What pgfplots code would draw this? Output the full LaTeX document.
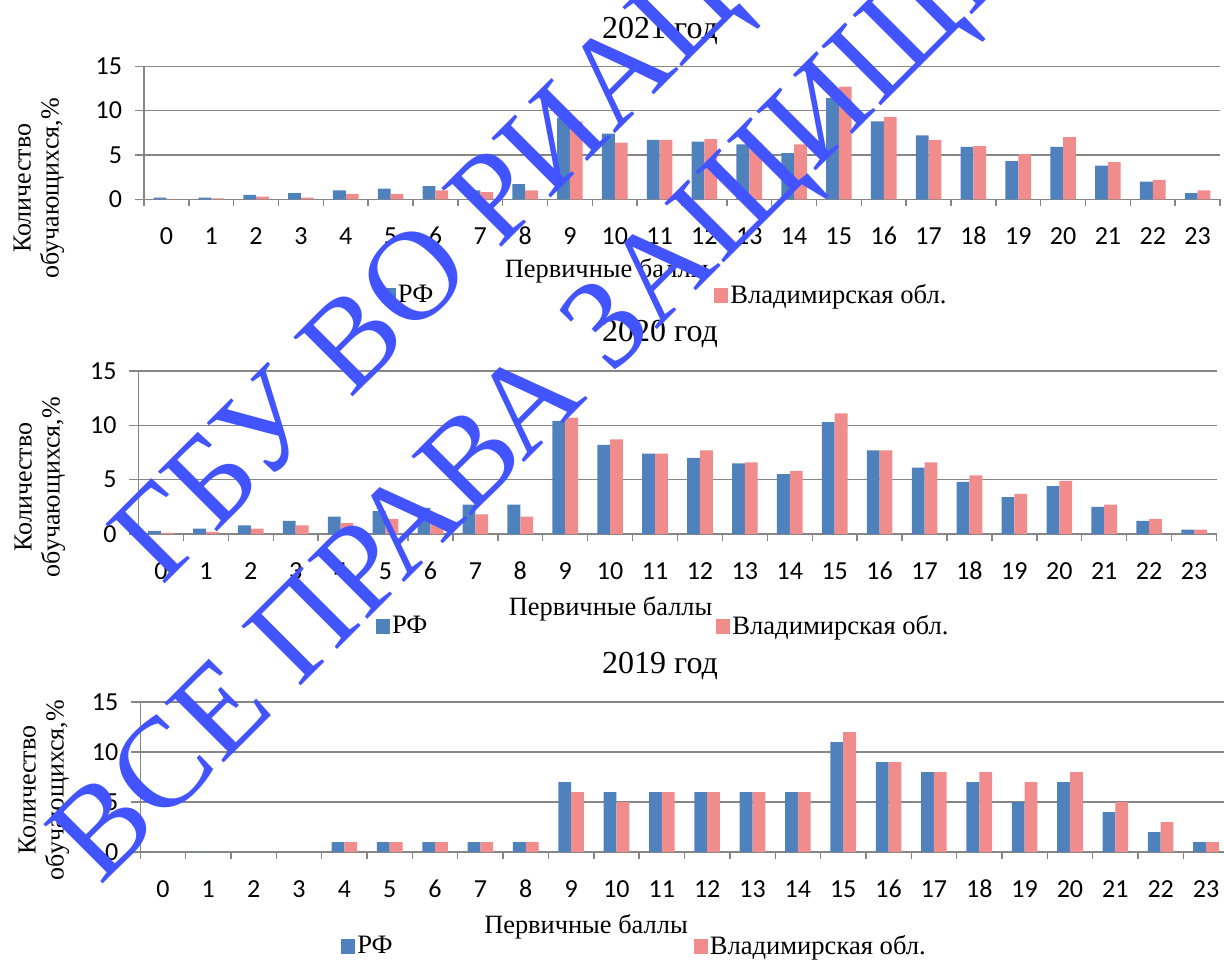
\documentclass[border=0pt]{standalone}
\usepackage{pgfplots}
\pgfplotsset{compat=1.18}
\usepackage{fontspec}
\setmainfont{Liberation Serif}
\newfontfamily\calibri{Carlito}

\definecolor{rfblue}{RGB}{79,129,189}
\definecolor{vlred}{RGB}{240,140,140}
\definecolor{wmblue}{RGB}{66,84,255}
\definecolor{axgray}{RGB}{134,134,134}

% one year: RF and Vladimir region, share of students per primary score, %
\pgfplotstableread{
score rf vl
0  0.2 0.0
1  0.2 0.1
2  0.5 0.3
3  0.7 0.2
4  1.0 0.6
5  1.2 0.6
6  1.5 1.0
7  1.0 0.8
8  1.7 1.0
9  9.2 8.8
10 7.4 6.4
11 6.7 6.7
12 6.5 6.8
13 6.2 6.3
14 5.2 6.2
15 11.4 12.7
16 8.8 9.3
17 7.2 6.7
18 5.9 6.0
19 4.3 5.1
20 5.9 7.0
21 3.8 4.2
22 2.0 2.2
23 0.7 1.0
}\yeartwentyone

\pgfplotstableread{
score rf vl
0  0.3 0.1
1  0.5 0.2
2  0.8 0.5
3  1.2 0.8
4  1.6 1.0
5  2.1 1.4
6  2.4 1.7
7  2.7 1.8
8  2.7 1.6
9  10.4 10.7
10 8.2 8.7
11 7.4 7.4
12 7.0 7.7
13 6.5 6.6
14 5.5 5.8
15 10.3 11.1
16 7.7 7.7
17 6.1 6.6
18 4.8 5.4
19 3.4 3.7
20 4.4 4.9
21 2.5 2.7
22 1.2 1.4
23 0.4 0.4
}\yeartwenty

\pgfplotstableread{
score rf vl
0  0 0
1  0 0
2  0 0
3  0 0
4  1 1
5  1 1
6  1 1
7  1 1
8  1 1
9  7 6
10 6 5
11 6 6
12 6 6
13 6 6
14 6 6
15 11 12
16 9 9
17 8 8
18 7 8
19 5 7
20 7 8
21 4 5
22 2 3
23 1 1
}\yearnineteen

\pgfplotsset{
  yearchart/.style={
    scale only axis,
    anchor=south west,
    ybar=0pt,
    bar width=6.4pt,
    ymin=0, ymax=15,
    xmin=-0.5, xmax=23.5,
    ytick={0,5,10,15},
    xtick={0,...,23},
    minor xtick={-0.5,0.5,...,23.5},
    ymajorgrids,
    grid style={axgray, line width=0.7pt},
    axis x line*=bottom,
    axis y line*=left,
    axis line style={axgray, line width=0.7pt},
    tick align=outside,
    major x tick style={draw=none},
    minor x tick style={axgray, line width=0.7pt},
    ytick style={axgray, line width=0.7pt},
    major tick length=4.5pt,
    minor tick length=3.5pt,
    tick label style={font=\calibri\fontsize{13}{13}\selectfont, text=black},
    /pgf/number format/assume math mode=true,
    xticklabel style={text height=8.5pt, text depth=0pt, yshift=-6pt},
    yticklabel style={xshift=-3pt},
    every axis title shift=0pt,
    title style={font=\fontsize{16}{16}\selectfont, anchor=base},
    xlabel style={font=\fontsize{13.2}{13.2}\selectfont, anchor=base},
    ylabel style={font=\fontsize{13}{14}\selectfont, align=center, anchor=center},
    ylabel={Количество\\обучающихся,\%},
    xlabel={Первичные баллы},
    legend columns=2,
    legend style={draw=none, fill=none, anchor=west, inner sep=0pt,
      font=\fontsize{13.3}{13.3}\selectfont,
      nodes={inner sep=1pt}},
  },
  rfbars/.style={fill=rfblue, draw=none,
    legend image code/.code={\fill[rfblue] (0pt,-3.6pt) rectangle (7pt,3.6pt);}},
  vlbars/.style={fill=vlred, draw=none,
    legend image code/.code={\fill[vlred] (0pt,-3.6pt) rectangle (7pt,3.6pt);}},
}

\begin{document}
\begin{tikzpicture}
\path[use as bounding box, clip] (0,0) rectangle (612pt,-479.5pt);

% 2021
\begin{axis}[yearchart,
    at={(72pt,-99.65pt)}, width=538pt, height=66.5pt,
    title={2021 год},
    title style={at={(axis description cs:0.4796,1.2105)}},
    xlabel style={at={(axis description cs:0.430,-0.586)}},
    ylabel style={at={(axis description cs:-0.0976,0.0827)}},
    legend style={at={(axis description cs:0.2208,-0.722)},
      /tikz/every even column/.append style={column sep=139.5pt}},
  ]
  \addplot[rfbars] table[x=score, y=rf] {\yeartwentyone};
  \addplot[vlbars] table[x=score, y=vl] {\yeartwentyone};
  \legend{РФ, Владимирская обл.}
\end{axis}

% 2020
\begin{axis}[yearchart,
    at={(69.25pt,-267pt)}, width=539pt, height=81.5pt,
    title={2020 год},
    title style={at={(axis description cs:0.4838,1.178)}},
    xlabel style={at={(axis description cs:0.438,-0.497)}},
    ylabel style={at={(axis description cs:-0.0914,0.288)}},
    legend style={at={(axis description cs:0.22,-0.567)},
      /tikz/every even column/.append style={column sep=143.5pt}},
  ]
  \addplot[rfbars] table[x=score, y=rf] {\yeartwenty};
  \addplot[vlbars] table[x=score, y=vl] {\yeartwenty};
  \legend{РФ, Владимирская обл.}
\end{axis}

% 2019
\begin{axis}[yearchart,
    at={(70.15pt,-426pt)}, width=544.2pt, height=75pt,
    title={2019 год},
    title style={at={(axis description cs:0.4775,1.193)}},
    xlabel style={at={(axis description cs:0.4095,-0.54)}},
    ylabel style={at={(axis description cs:-0.0885,0.413)}},
    legend style={at={(axis description cs:0.1844,-0.63)},
      /tikz/every even column/.append style={column sep=149.5pt}},
  ]
  \addplot[rfbars] table[x=score, y=rf] {\yearnineteen};
  \addplot[vlbars] table[x=score, y=vl] {\yearnineteen};
  \legend{РФ, Владимирская обл.}
\end{axis}

% watermark over the charts
\begin{scope}[every node/.style={text=wmblue, font=\fontsize{64}{64}\selectfont,
    anchor=base west, inner sep=0pt, rotate=45}]
  \node at (81pt,-293.5pt) {ГБУ ВО РИАЦОКО};
  \node at (50pt,-443.5pt) {ВСЕ ПРАВА ЗАЩИЩЕНЫ};
\end{scope}
\end{tikzpicture}
\end{document}
